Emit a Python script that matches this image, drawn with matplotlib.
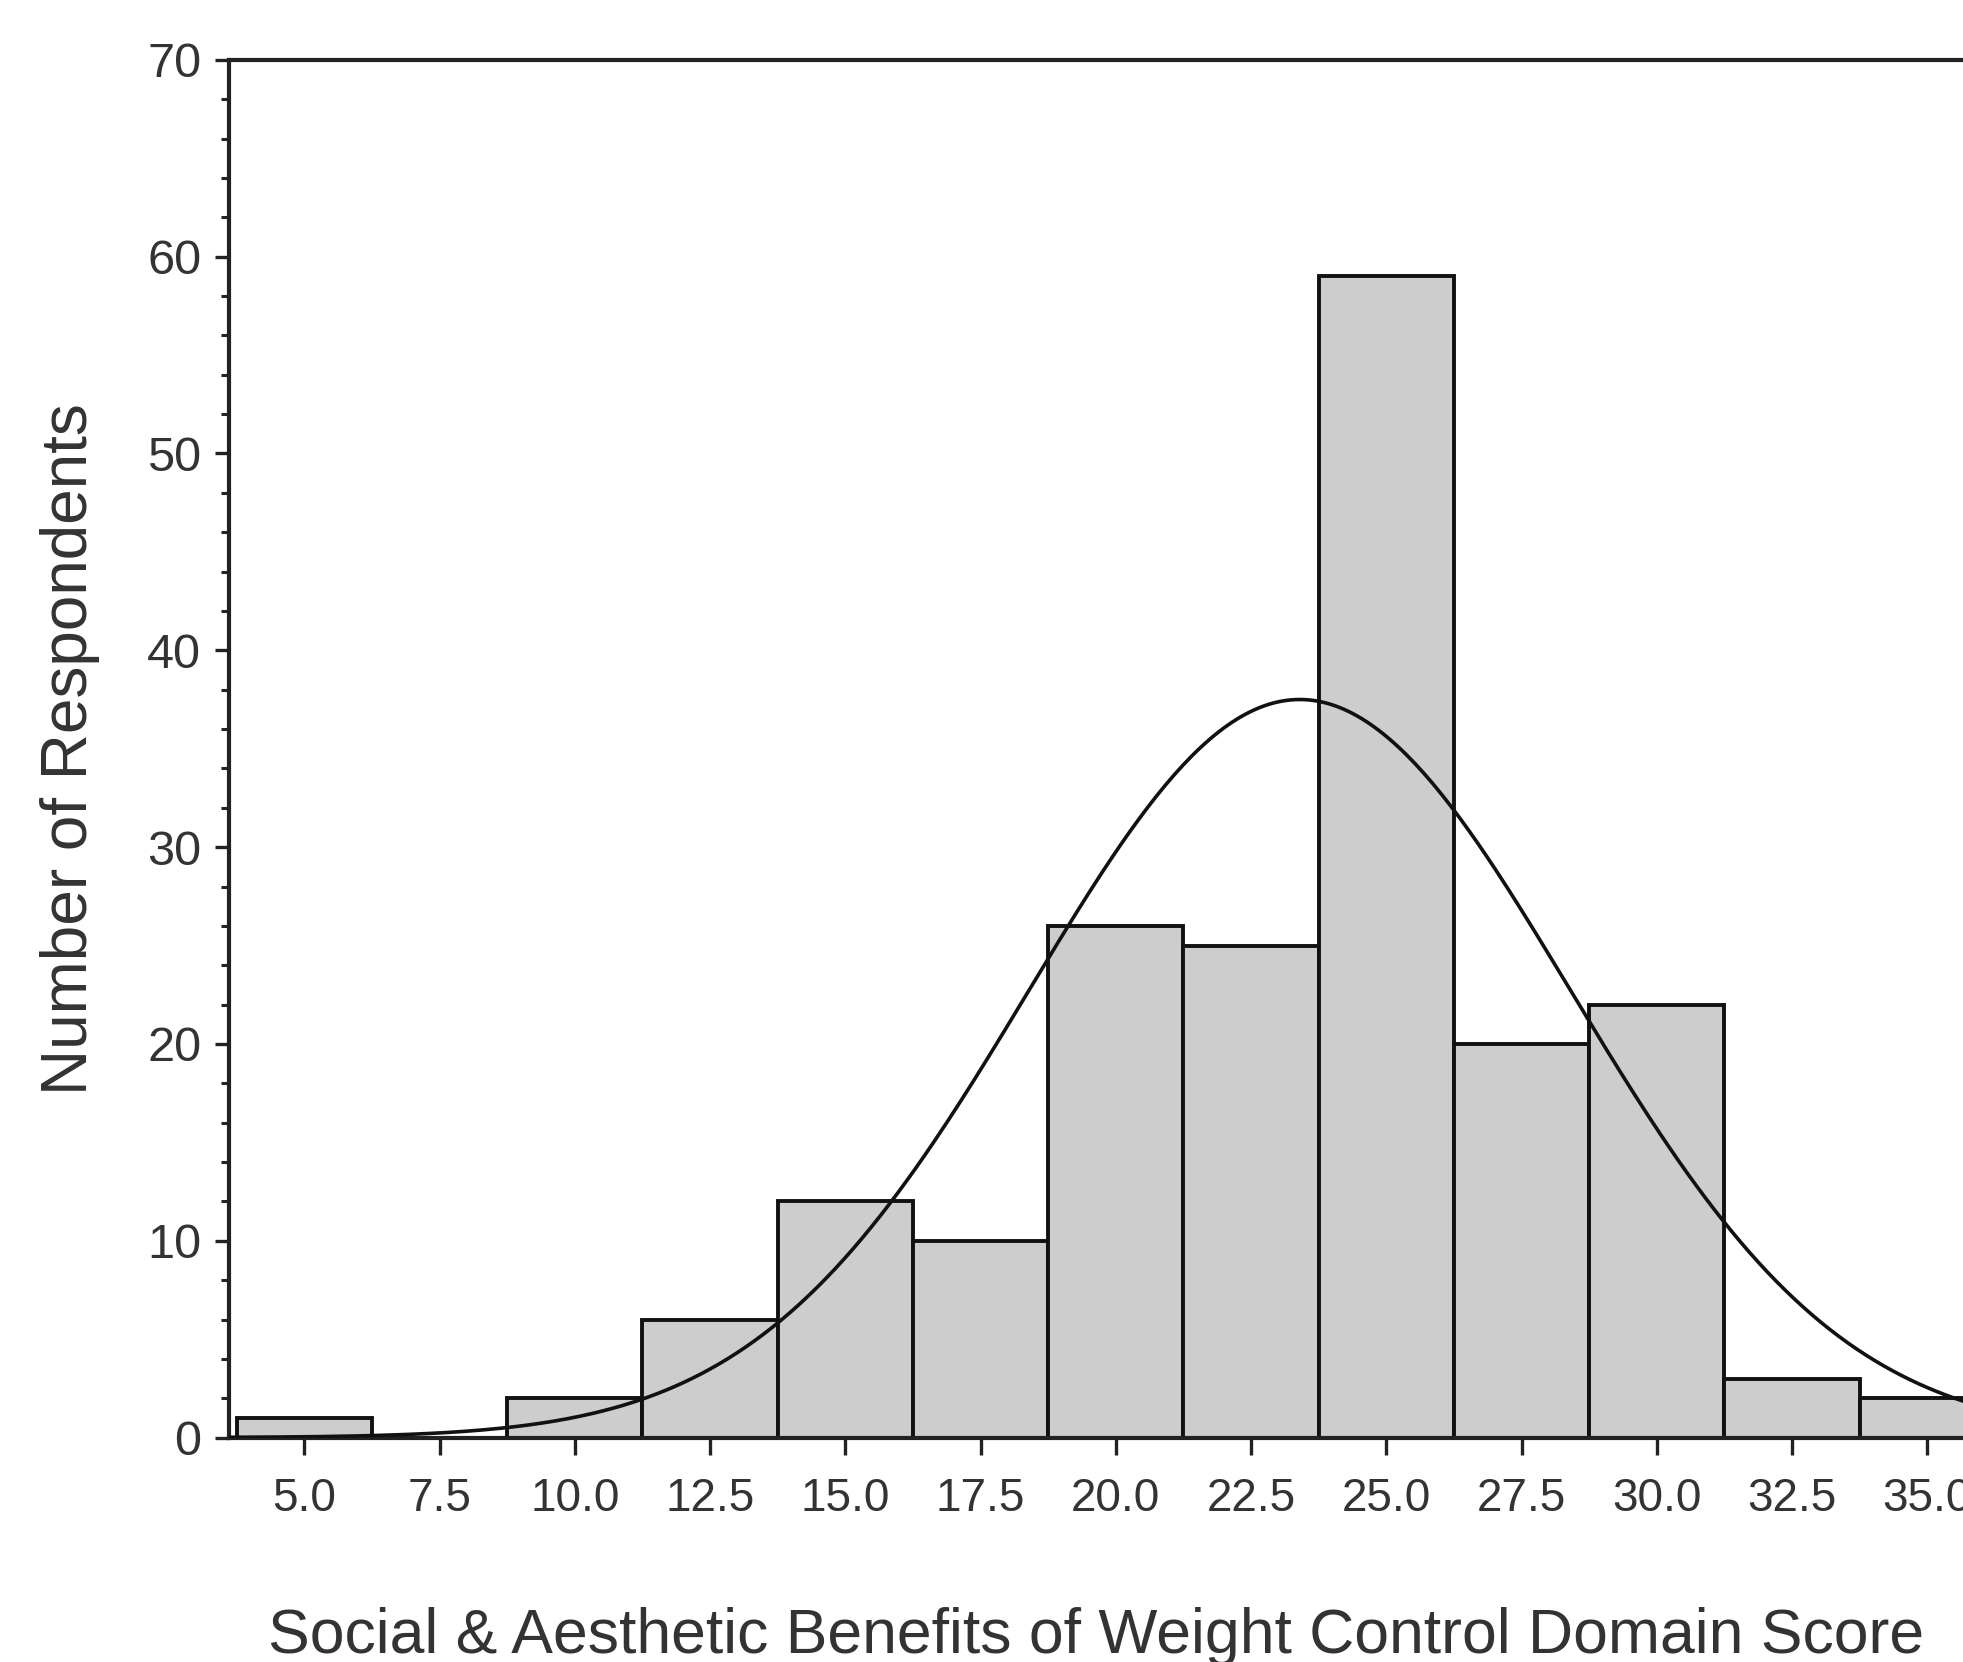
import numpy as np
import matplotlib
matplotlib.use("Agg")
import matplotlib.pyplot as plt

plt.rcParams['font.family'] = ['Liberation Sans', 'DejaVu Sans']

# histogram bins (centres) and counts
bin_centers = [5.0, 7.5, 10.0, 12.5, 15.0, 17.5, 20.0, 22.5, 25.0, 27.5, 30.0, 32.5, 35.0]
counts = [1, 0, 2, 6, 12, 10, 26, 25, 59, 20, 22, 3, 2]
bin_width = 2.5

# fitted normal curve parameters (read from the overlay)
curve_mean = 23.4
curve_sd = 5.0

x_ticks = [5.0, 7.5, 10.0, 12.5, 15.0, 17.5, 20.0, 22.5, 25.0, 27.5, 30.0, 32.5, 35.0]
x_tick_labels = ["5.0", "7.5", "10.0", "12.5", "15.0", "17.5", "20.0",
                 "22.5", "25.0", "27.5", "30.0", "32.5", "35.0"]
y_ticks = [0, 10, 20, 30, 40, 50, 60, 70]

fig = plt.figure(figsize=(19.63, 16.62), dpi=100)
# plot area runs off the right edge, as in the scanned original
ax = fig.add_axes([0.1167, 0.135, 0.8833, 0.829])

ax.bar(bin_centers, counts, width=bin_width, color='#cdcdcd',
       edgecolor='#111111', linewidth=2.8, zorder=2)

# normal curve scaled to counts
n = sum(counts)
xs = np.linspace(3.6, 36.5, 400)
ys = n * bin_width / (curve_sd * np.sqrt(2 * np.pi)) * np.exp(-0.5 * ((xs - curve_mean) / curve_sd) ** 2)
ax.plot(xs, ys, color='#111111', linewidth=2.6, zorder=3)

ax.set_xlim(3.61, 35.66)
ax.set_ylim(0, 70)

ax.set_xticks(x_ticks)
ax.set_xticklabels(x_tick_labels)
ax.set_yticks(y_ticks)
ax.set_yticks(np.arange(0, 71, 2), minor=True)

ax.tick_params(axis='x', direction='out', length=12, width=2.4, pad=16,
               labelsize=33, colors='#222222', labelcolor='#333333')
ax.tick_params(axis='y', which='major', direction='out', length=10, width=2.4, pad=10,
               labelsize=35, colors='#222222', labelcolor='#333333')
ax.tick_params(axis='y', which='minor', direction='out', length=6, width=2.2, colors='#222222')

for side in ['left', 'bottom', 'top']:
    ax.spines[side].set_linewidth(3.0)
    ax.spines[side].set_color('#222222')
ax.spines['right'].set_visible(False)

ax.set_ylabel("Number of Respondents", fontsize=46, color='#333333', labelpad=34)
ax.set_xlabel("Social & Aesthetic Benefits of Weight Control Domain Score",
              fontsize=45, color='#333333', labelpad=62)

fig.savefig("out.png", dpi=100)
